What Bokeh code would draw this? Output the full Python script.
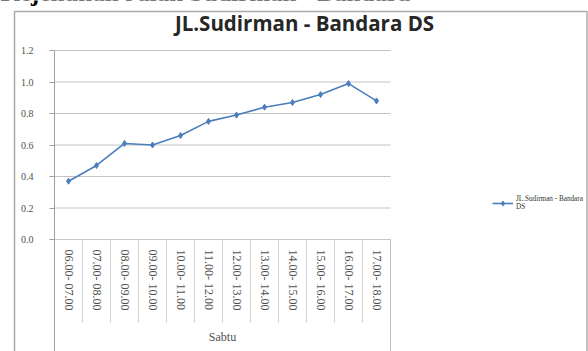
from bokeh.plotting import figure
from bokeh.models import Range1d, FixedTicker, Label, Legend, LegendItem
from bokeh.embed import file_html
from bokeh.resources import INLINE

# ---- data ----
time_labels = ["06.00- 07.00", "07.00- 08.00", "08.00- 09.00", "09.00- 10.00",
               "10.00- 11.00", "11.00- 12.00", "12.00- 13.00", "13.00- 14.00",
               "14.00- 15.00", "15.00- 16.00", "16.00- 17.00", "17.00- 18.00"]
values = [0.37, 0.47, 0.61, 0.60, 0.66, 0.75, 0.79, 0.84, 0.87, 0.92, 0.99, 0.88]
y_ticks = [0.0, 0.2, 0.4, 0.6, 0.8, 1.0, 1.2]
day_label = "Sabtu"
series_label = "JL.Sudirman - Bandara\nDS"
chart_title = "JL.Sudirman - Bandara DS"
heading = "Kejenuhan Jalan Sudirman - Bandara"

n = len(time_labels)
positions = list(range(n))
boundaries = [i - 0.5 for i in range(n + 1)]

# ---- layout (pixels) ----
W, H = 588, 351
PLOT_L, PLOT_R, PLOT_T, PLOT_B = 54, 390, 50, 239
SEP_LEN = 83            # separator length below the axis, px
px_x = (PLOT_R - PLOT_L) / n
px_y = (PLOT_B - PLOT_T) / y_ticks[-1]
x0 = boundaries[0] - PLOT_L / px_x
x1 = boundaries[-1] + (W - PLOT_R) / px_x
y1 = y_ticks[-1] + PLOT_T / px_y
y0 = y_ticks[0] - (H - PLOT_B) / px_y
sep_bottom = -SEP_LEN / px_y


def cx(px):
    return x0 + px / px_x


def cy(py):
    return y1 - py / px_y


SERIF = "Liberation Serif"
LINE_COLOR = "#4a7ebb"
GRID = "#c4c4c4"
AXIS = "#a0a0a0"
LBL = "#505050"

p = figure(width=W, height=H, output_backend="svg", toolbar_location=None,
           x_range=Range1d(x0, x1), y_range=Range1d(y0, y1),
           min_border_left=0, min_border_right=0, min_border_top=0, min_border_bottom=0)
p.outline_line_color = None
p.background_fill_color = "white"
p.border_fill_color = "white"
p.xgrid.visible = False
p.ygrid.visible = False

# outer chart frame
p.line(x=[cx(14), cx(14), cx(586.5), cx(586.5)], y=[cy(360), cy(11), cy(11), cy(360)],
       line_color="#ababab", line_width=1.5)

# gridlines within the plot area
p.segment(x0=[boundaries[0]] * len(y_ticks), x1=[boundaries[-1]] * len(y_ticks),
          y0=y_ticks, y1=y_ticks, line_color=GRID, line_width=1)

# category separators and group edges
p.segment(x0=boundaries, x1=boundaries, y0=[0] * len(boundaries),
          y1=[sep_bottom] * len(boundaries), line_color="#d0d0d0", line_width=1)
p.segment(x0=[boundaries[-1]], x1=[boundaries[-1]], y0=[0], y1=[y0],
          line_color="#c0c0c0", line_width=1)

# y axis
p.yaxis.fixed_location = boundaries[0]
p.yaxis.bounds = (y0, y_ticks[-1])
p.yaxis.ticker = FixedTicker(ticks=y_ticks)
p.yaxis.major_label_overrides = {t: f"{t:.1f}" for t in y_ticks}
p.yaxis.major_label_text_font = SERIF
p.yaxis.major_label_text_font_size = "10px"
p.yaxis.major_label_text_color = LBL
p.yaxis.axis_line_color = AXIS
p.yaxis.major_tick_line_color = AXIS
p.yaxis.major_tick_out = 5
p.yaxis.major_tick_in = 0
p.yaxis.minor_tick_line_color = None
p.yaxis.major_label_standoff = 16

# x axis
p.xaxis.fixed_location = 0
p.xaxis.bounds = (boundaries[0], boundaries[-1])
p.xaxis.ticker = FixedTicker(ticks=positions)
p.xaxis.major_label_overrides = {i: lab for i, lab in zip(positions, time_labels)}
p.xaxis.major_label_orientation = "vertical"
p.xaxis.major_label_text_font = SERIF
p.xaxis.major_label_text_font_size = "12px"
p.xaxis.major_label_text_color = LBL
p.xaxis.major_label_standoff = 10
p.xaxis.major_tick_line_color = None
p.xaxis.major_tick_out = 0
p.xaxis.major_tick_in = 0
p.xaxis.minor_tick_line_color = None
p.xaxis.axis_line_color = "#c8c8c8"
p.xaxis.axis_label = day_label
p.xaxis.axis_label_text_font = SERIF
p.xaxis.axis_label_text_font_size = "12px"
p.xaxis.axis_label_text_font_style = "normal"
p.xaxis.axis_label_text_color = LBL
p.xaxis.axis_label_standoff = 17

line = p.line(positions, values, line_color=LINE_COLOR, line_width=1.6)
pts = p.scatter(positions, values, marker="diamond", size=6, fill_color=LINE_COLOR,
                line_color=LINE_COLOR)

legend = Legend(items=[LegendItem(label=series_label, renderers=[line, pts])],
                location=(492, H - 211), padding=0, margin=0, border_line_color=None,
                background_fill_alpha=0, glyph_width=21, glyph_height=12, label_standoff=3,
                label_text_font=SERIF, label_text_font_size="7.2px",
                label_text_color="#333333", label_height=10)
p.add_layout(legend, "center")

p.add_layout(Label(x=304, y=H - 22, x_units="screen", y_units="screen", text=chart_title,
                   text_align="center", text_baseline="alphabetic",
                   text_font="Open Sans", text_font_style="bold", text_font_size="20.5px",
                   text_color="#262626"))
p.add_layout(Label(x=0, y=H + 8.5, x_units="screen", y_units="screen", text=heading,
                   text_align="left", text_baseline="alphabetic",
                   text_font=SERIF, text_font_style="bold", text_font_size="25px",
                   text_color="#000000"))

open("out.html", "w").write(file_html(p, INLINE))
